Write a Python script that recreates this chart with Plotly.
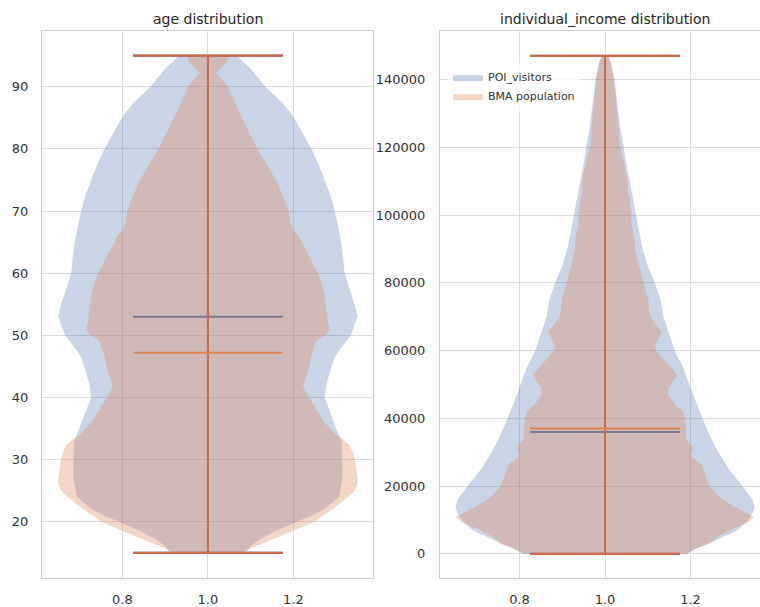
import numpy as np
import plotly.graph_objects as go

# ---------------- data ----------------
# Kernel-density profiles (arbitrary scale) sampled at value levels.
age_levels_poi = [15, 16, 17, 18.5, 20, 21, 22, 24, 27, 30, 33, 35, 37.5, 40, 42, 44,
                  46.5, 48, 50, 53, 55, 57.5, 60, 62.5, 65, 67.5, 70, 72.5, 75, 77.5,
                  80, 83, 85.4, 87.5, 90, 93, 95]
age_density_poi = [0.09, 0.1, 0.12, 0.16, 0.21, 0.245, 0.275, 0.31, 0.318, 0.318, 0.316,
                   0.303, 0.29, 0.276, 0.28, 0.288, 0.3, 0.315, 0.338, 0.354, 0.347,
                   0.335, 0.323, 0.32, 0.315, 0.308, 0.3, 0.29, 0.276, 0.262, 0.245,
                   0.22, 0.2, 0.175, 0.136, 0.1, 0.068]

age_levels_bma = [15, 16, 17.4, 18.5, 20, 21.5, 22.7, 24, 25, 26, 27, 29, 31, 32.5, 34,
                  36, 38, 40, 41, 42, 43, 45, 47, 49, 50, 51, 52.5, 55, 57.5, 60, 62.5,
                  65, 66, 67, 68, 70, 72.5, 75, 77.5, 80, 82.5, 85.4, 87.5, 90, 91,
                  92.2, 93, 94, 95]
age_density_bma = [0.075, 0.11, 0.16, 0.2, 0.25, 0.28, 0.305, 0.328, 0.343, 0.35, 0.35,
                   0.346, 0.34, 0.33, 0.3, 0.272, 0.255, 0.236, 0.228, 0.222, 0.228,
                   0.237, 0.243, 0.253, 0.275, 0.284, 0.28, 0.276, 0.27, 0.257, 0.238,
                   0.218, 0.212, 0.2, 0.193, 0.189, 0.175, 0.159, 0.137, 0.116, 0.097,
                   0.077, 0.062, 0.046, 0.035, 0.019, 0.03, 0.045, 0.047]

income_levels_poi = [0, 2000, 4000, 7000, 10000, 12000, 14000, 16000, 20000, 25000,
                     30000, 35000, 40000, 45000, 50000, 55000, 60000, 65000, 70000,
                     75000, 80000, 85000, 90000, 95000, 100000, 105000, 110000, 115000,
                     120000, 125000, 130000, 135000, 140000, 145000, 147000]
income_density_poi = [0.19, 0.22, 0.26, 0.31, 0.335, 0.345, 0.35, 0.345, 0.322, 0.29,
                      0.265, 0.245, 0.228, 0.212, 0.197, 0.183, 0.163, 0.15, 0.137,
                      0.13, 0.117, 0.1, 0.088, 0.08, 0.073, 0.065, 0.058, 0.05, 0.044,
                      0.037, 0.031, 0.027, 0.022, 0.014, 0.008]

income_levels_bma = [0, 1500, 3000, 5000, 7000, 9000, 10800, 12500, 14700, 17000, 20000,
                     23000, 26500, 29000, 31300, 34000, 37000, 40000, 42000, 44000,
                     47000, 48900, 50000, 52800, 55000, 57600, 60000, 61600, 63500,
                     65500, 67500, 70400, 72500, 75300, 77500, 80000, 84000, 87000,
                     90000, 92000, 95000, 97000, 100000, 102000, 105000, 107000, 110000,
                     112000, 115000, 117000, 120000, 122000, 125000, 127000, 130000,
                     135000, 140000, 145000, 147000]
income_density_bma = [0.19, 0.212, 0.245, 0.262, 0.29, 0.33, 0.35, 0.325, 0.292, 0.265,
                      0.244, 0.236, 0.225, 0.2, 0.206, 0.19, 0.19, 0.187, 0.183, 0.165,
                      0.148, 0.148, 0.155, 0.168, 0.155, 0.135, 0.12, 0.117, 0.125,
                      0.133, 0.12, 0.105, 0.103, 0.101, 0.095, 0.09, 0.082, 0.075, 0.07,
                      0.07, 0.066, 0.062, 0.062, 0.06, 0.058, 0.052, 0.054, 0.05, 0.045,
                      0.042, 0.035, 0.033, 0.032, 0.03, 0.029, 0.025, 0.021, 0.013,
                      0.007]

# summary statistics: min, max, mean
age_stats_poi = {"min": 15, "max": 95, "mean": 53.0}
age_stats_bma = {"min": 15, "max": 95, "mean": 47.2}
income_stats_poi = {"min": 0, "max": 147000, "mean": 36000}
income_stats_bma = {"min": 0, "max": 147000, "mean": 37000}

series_names = ["POI_visitors", "BMA population"]
age_ticks = [20, 30, 40, 50, 60, 70, 80, 90]
income_ticks = [0, 20000, 40000, 60000, 80000, 100000, 120000, 140000]
x_ticks = [0.8, 1.0, 1.2]

# ---------------- style ----------------
POS = 1.0
WIDTH = 0.7
BLUE = "#4C72B0"
ORANGE = "#DD8452"
BLUE_FILL = "rgba(76,114,176,0.3)"
ORANGE_FILL = "rgba(221,132,82,0.33)"
ORANGE_LINE = "#CF6B46"
FONT = "DejaVu Sans"
TEXT = "#333333"
W, H = 760, 607

fig = go.Figure()


def add_violin(levels, density, stats, fill, line_color, mean_color, name,
               legend, xa, ya):
    lv = np.asarray(levels, float)
    d = np.asarray(density, float)
    half = d / d.max() * (WIDTH / 2)
    xs = np.concatenate([POS + half, (POS - half)[::-1]])
    ys = np.concatenate([lv, lv[::-1]])
    fig.add_trace(go.Scatter(
        x=xs, y=ys, mode="lines", fill="toself", fillcolor=fill,
        line=dict(width=0, color=fill), name=name, legendgroup=name,
        showlegend=legend, xaxis=xa, yaxis=ya, hoverinfo="skip"))
    lo, hi = POS - WIDTH / 4, POS + WIDTH / 4
    # extrema caps and the central bar
    for key in ("min", "max"):
        fig.add_trace(go.Scatter(
            x=[lo, hi], y=[stats[key], stats[key]], mode="lines",
            line=dict(color=line_color, width=2.2), showlegend=False,
            xaxis=xa, yaxis=ya, hoverinfo="skip"))
    fig.add_trace(go.Scatter(
        x=[POS, POS], y=[stats["min"], stats["max"]], mode="lines",
        line=dict(color=line_color, width=2), showlegend=False,
        xaxis=xa, yaxis=ya, hoverinfo="skip"))
    fig.add_trace(go.Scatter(
        x=[lo, hi], y=[stats["mean"], stats["mean"]], mode="lines",
        line=dict(color=mean_color, width=2), showlegend=False,
        xaxis=xa, yaxis=ya, hoverinfo="skip"))


# age panel
add_violin(age_levels_poi, age_density_poi, age_stats_poi, BLUE_FILL, BLUE, BLUE,
           series_names[0], False, "x", "y")
add_violin(age_levels_bma, age_density_bma, age_stats_bma, ORANGE_FILL, ORANGE_LINE,
           ORANGE, series_names[1], False, "x", "y")
# income panel
add_violin(income_levels_poi, income_density_poi, income_stats_poi, BLUE_FILL, BLUE,
           BLUE, series_names[0], True, "x2", "y2")
add_violin(income_levels_bma, income_density_bma, income_stats_bma, ORANGE_FILL,
           ORANGE_LINE, ORANGE, series_names[1], True, "x2", "y2")

ydom = [1 - 580.5 / H, 1 - 31 / H]
axis_common = dict(showgrid=True, gridcolor="#dcdcdc", gridwidth=1, zeroline=False,
                   showline=True, linecolor="#cccccc", linewidth=1, ticks="",
                   tickfont=dict(family=FONT, size=13, color=TEXT))

fig.update_layout(
    width=W, height=H, margin=dict(l=0, r=0, t=0, b=0),
    paper_bgcolor="white", plot_bgcolor="white",
    font=dict(family=FONT, color=TEXT),
    xaxis=dict(domain=[42 / W, 373 / W], range=[0.612, 1.386], anchor="y",
               tickvals=x_ticks, ticktext=[f"{t:.1f}" for t in x_ticks],
               mirror=True, ticklabelstandoff=10, **axis_common),
    yaxis=dict(domain=ydom, range=[11, 99], anchor="x", tickvals=age_ticks,
               mirror=True, ticklabelstandoff=10, **axis_common),
    xaxis2=dict(domain=[440 / W, 1.0], range=[0.614, 1.3626], anchor="y2",
                tickvals=x_ticks, ticktext=[f"{t:.1f}" for t in x_ticks],
                mirror=True, ticklabelstandoff=10, **axis_common),
    yaxis2=dict(domain=ydom, range=[-7000, 154400], anchor="x2",
                tickvals=income_ticks, tickformat="d", mirror=False,
                ticklabelstandoff=11, **axis_common),
    legend=dict(x=448 / W, y=1 - 63 / H, xanchor="left", yanchor="top",
                bgcolor="rgba(255,255,255,0.8)", borderwidth=0,
                font=dict(family=FONT, size=11, color=TEXT),
                itemwidth=30, tracegroupgap=0),
    annotations=[
        dict(text="age distribution", x=207.5 / W, y=1 - 19 / H, xref="paper",
             yref="paper", xanchor="center", yanchor="middle", showarrow=False,
             font=dict(family=FONT, size=14, color="#262626")),
        dict(text="individual_income distribution", x=605 / W, y=1 - 19 / H,
             xref="paper", yref="paper", xanchor="center", yanchor="middle",
             showarrow=False, font=dict(family=FONT, size=14, color="#262626")),
    ],
    showlegend=True,
)

fig.write_html("out.html")
